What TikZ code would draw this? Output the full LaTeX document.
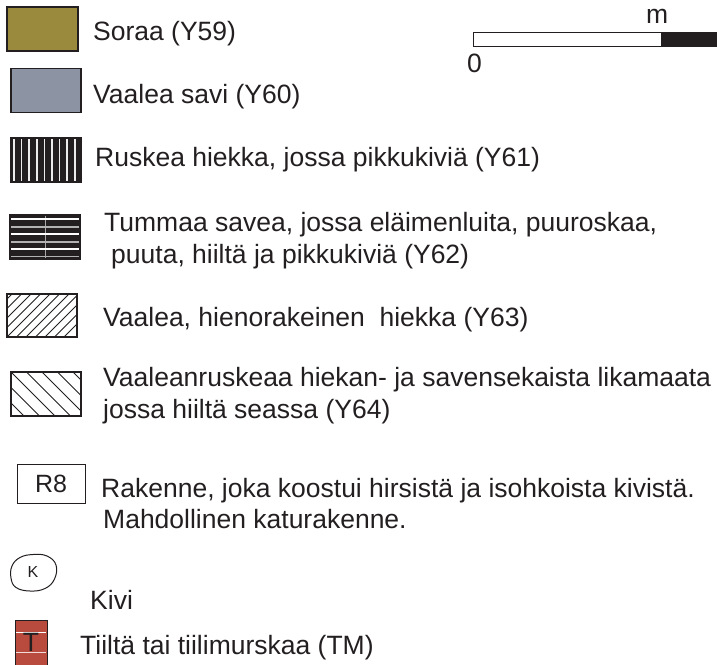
\documentclass[tikz,border=0pt]{standalone}
\usepackage{fontspec}
\setmainfont{Liberation Sans}
\definecolor{ink}{HTML}{231F20}
\definecolor{soraa}{HTML}{9A8A3E}
\definecolor{savi}{HTML}{8C94A4}
\definecolor{tiili}{HTML}{B84A3E}
\begin{document}
\begin{tikzpicture}[x=1pt,y=-1pt,
  lbl/.style={anchor=base west, inner sep=0pt, font=\fontsize{26.5}{32}\selectfont, text=ink},
  keybox/.style={draw=ink, line width=1.3pt, inner sep=0pt, minimum width=70pt, minimum height=44pt},
  hatch/.style={draw=ink, line width=0.9pt}]
\useasboundingbox (0,0) rectangle (717,664);

% scale bar
\node[draw=ink, line width=0.9pt, fill=white, inner sep=0pt, minimum width=250pt, minimum height=14pt, anchor=north west] (bar) at (473,32) {};
\fill[ink] (661,32) rectangle (bar.south east);
\draw[ink, line width=0.9pt] (bar.north west) rectangle (bar.south east);
\node[lbl] (m) at (646,23) {m};
\node[lbl] (zero) at (467,72) {0};

% Y59
\node[keybox, fill=soraa, minimum width=71pt] (b1) at (42.5,29) {};
\node[lbl] (t1) at (93,40) {Soraa (Y59)};

% Y60
\node[keybox, fill=savi] (b2) at (46,90.5) {};
\node[lbl] (t2) at (93,103) {Vaalea savi (Y60)};

% Y61
\node[keybox, fill=ink] (b3) at (46,160) {};
\foreach \x in {14,21.6,29.2,36.8,44.4,52,59.6,67.2,74.8}
  \draw[gray!15, line width=1.6pt] (\x,139) -- (\x,181);
\node[lbl] (t3) at (95,166) {Ruskea hiekka, jossa pikkukiviä (Y61)};

% Y62
\node[keybox, fill=ink] (b4) at (45,237) {};
\draw[gray!70, line width=0.6pt] (45,216) -- (45,258);
\foreach \y/\c in {219/white,227/gray!60,234/white,242/gray!60,249/white,256.5/gray!60}
  \draw[\c, line width=1.3pt] (11,\y) -- (79,\y);
\node[lbl] (t4a) at (104,231) {Tummaa savea, jossa eläimenluita, puuroskaa,};
\node[lbl] (t4b) at (111,263) {puuta, hiiltä ja pikkukiviä (Y62)};

% Y63
\node[keybox, fill=white, minimum height=43pt] (b5) at (42,315.5) {};
\begin{scope}
  \clip (b5.south west) rectangle (b5.north east);
  \foreach \k in {-6,...,6}
    \draw[hatch] ({7+\k*9.5},337) -- ({7+\k*9.5+45},292);
\end{scope}
\draw[draw=ink, line width=1.3pt] (b5.south west) rectangle (b5.north east);
\node[lbl] (t5) at (103,326) {Vaalea, hienorakeinen~ hiekka (Y63)};

% Y64
\node[keybox, fill=white] (b6) at (46,394) {};
\begin{scope}
  \clip (b6.south west) rectangle (b6.north east);
  \foreach \k in {-4,...,5}
    \draw[hatch] ({11+\k*15.5},372) -- ({11+\k*15.5+46},418);
\end{scope}
\draw[draw=ink, line width=1.3pt] (b6.south west) rectangle (b6.north east);
\node[lbl] (t6a) at (103,386) {Vaaleanruskeaa hiekan- ja savensekaista likamaata};
\node[lbl] (t6b) at (103,418) {jossa hiiltä seassa (Y64)};

% R8
\node[draw=ink, line width=1pt, inner sep=0pt, minimum width=68pt, minimum height=39pt,
      font=\fontsize{25}{28}\selectfont, text=ink] (r8) at (51,484) {R8};
\node[lbl] (t7a) at (101,497) {Rakenne, joka koostui hirsistä ja isohkoista kivistä.};
\node[lbl] (t7b) at (103,528) {Mahdollinen katurakenne.};

% Kivi
\draw[ink, line width=1pt] plot[smooth cycle, tension=0.7] coordinates
  {(12,566) (20,557.5) (33,554.5) (47,556) (56,565) (54.5,579) (45,588.5) (30,591) (16,587.5) (11,578)};
\node[inner sep=0pt, font=\fontsize{16}{18}\selectfont, text=ink] (k) at (33,572) {K};
\node[lbl] (t8) at (90,609) {Kivi};

% TM
\node[draw=ink, fill=tiili, line width=1.3pt, inner sep=0pt, minimum width=32pt, minimum height=50pt, anchor=north west] (tm) at (15,620) {};
\draw[white, line width=1pt] (16,632) -- (46,632);
\draw[white!80!tiili, line width=1pt] (16,652) -- (46,652);
\node[inner sep=0pt, font=\fontsize{26.5}{32}\selectfont, text=ink] (tt) at (31,642.5) {T};
\node[lbl] (t9) at (80,654) {Tiiltä tai tiilimurskaa (TM)};
\end{tikzpicture}
\end{document}
